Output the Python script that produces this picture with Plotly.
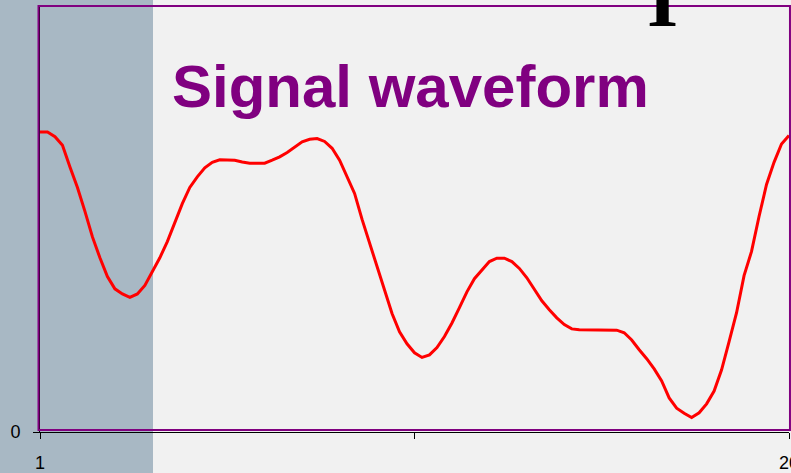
import numpy as np
import plotly.graph_objects as go

# Signal values (y axis 0..100, x axis index 1..20)
signal = [70.4, 70.4, 69.3, 67.3, 62.2, 57.4, 51.8, 45.8, 40.9, 36.5,
          33.6, 32.4, 31.6, 32.4, 34.4, 37.5, 40.9, 44.7, 49.3, 53.6,
          57.4, 59.9, 62.0, 63.3, 63.9, 63.9, 63.8, 63.4, 63.1, 63.1,
          63.1, 63.8, 64.6, 65.6, 66.9, 68.1, 68.7, 68.9, 68.2, 66.6,
          63.8, 59.8, 56.0, 49.9, 44.5, 38.6, 33.2, 27.8, 23.5, 20.7,
          18.6, 17.5, 18.1, 19.8, 22.4, 25.6, 29.2, 32.9, 36.0, 38.1,
          40.0, 40.8, 40.8, 40.0, 38.4, 36.2, 33.6, 30.8, 28.7, 26.8,
          25.2, 24.2, 24.0, 24.0, 24.0, 24.0, 24.0, 23.9, 23.3, 21.6,
          19.3, 17.2, 14.8, 12.0, 8.0, 5.6, 4.4, 3.4, 4.5, 6.6,
          9.6, 14.6, 21.2, 28.0, 36.7, 42.4, 50.6, 58.1, 63.3, 67.6,
          69.6]
x_start, x_end = 1, 20
x_vals = np.linspace(x_start, x_end, len(signal))

x_tickvals = [1, 10.5, 20]
x_ticktext = ["1", "", "20"]
y_tickvals = [0]
y_ticktext = ["0"]

title_text = "Signal waveform"
fragment_text = "I"

fig = go.Figure()
fig.add_trace(go.Scatter(x=x_vals, y=signal, mode="lines",
                         line=dict(color="#ff0000", width=3),
                         hoverinfo="skip", showlegend=False))

fig.update_layout(
    width=791, height=473,
    margin=dict(l=40, r=2, t=6, b=41, autoexpand=False),
    paper_bgcolor="#f1f1f1",
    plot_bgcolor="rgba(0,0,0,0)",
    showlegend=False,
    xaxis=dict(range=[x_start, x_end], tickvals=x_tickvals, ticktext=x_ticktext,
               automargin=False, ticklabeloverflow="allow",
               showgrid=False, zeroline=False, showline=True, linecolor="black",
               linewidth=1, ticks="outside", ticklen=6, tickcolor="black",
               ticklabelstandoff=8,
               tickfont=dict(family="Liberation Sans, Arial", size=18, color="black")),
    yaxis=dict(range=[0, 100], tickvals=y_tickvals, ticktext=y_ticktext,
               automargin=False, ticklabeloverflow="allow",
               showgrid=False, zeroline=False, showline=True, linecolor="black",
               linewidth=1, ticks="outside", ticklen=6, tickcolor="black",
               ticklabelstandoff=9,
               tickfont=dict(family="Liberation Sans, Arial", size=18, color="black")),
    shapes=[
        dict(type="rect", xref="paper", yref="paper",
             x0=-40/749, x1=113/749, y0=-41/426, y1=432/426,
             fillcolor="#a8b8c4", line=dict(width=0), layer="below"),
        dict(type="rect", xref="paper", yref="paper",
             x0=-0.002, x1=1.0013, y0=0.0047, y1=1.0,
             fillcolor="rgba(0,0,0,0)", line=dict(color="#800080", width=2),
             layer="above"),
    ],
    annotations=[
        dict(text=title_text, xref="paper", yref="paper",
             x=(170-40)/749, y=(432-87)/426, xanchor="left", yanchor="middle",
             showarrow=False,
             font=dict(family="Liberation Sans, Arial", size=60, color="#800080",
                       weight="bold")),
        dict(text=fragment_text, xref="paper", yref="paper",
             x=(662-40)/749, y=(432-45)/426, xanchor="center", yanchor="bottom",
             showarrow=False,
             font=dict(family="Liberation Serif, Times New Roman", size=80,
                       color="black", weight="bold")),
    ],
)

fig.write_html("out.html", config={"displayModeBar": False},
               post_script="document.body.style.margin='0px';document.body.style.overflow='hidden';")
